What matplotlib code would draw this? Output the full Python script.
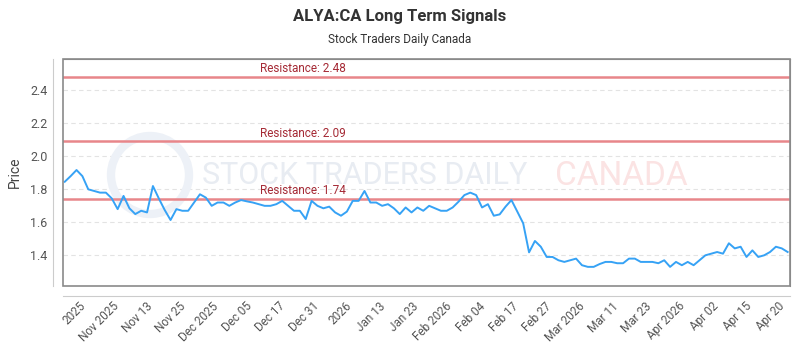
import matplotlib
matplotlib.use("Agg")
import matplotlib.pyplot as plt
import numpy as np
from matplotlib.patches import Rectangle, Ellipse

prices = [
    1.846, 1.88, 1.917, 1.88, 1.80, 1.79, 1.78, 1.78, 1.745, 1.68,
    1.76, 1.685, 1.65, 1.67, 1.66, 1.82, 1.745, 1.675, 1.614, 1.68,
    1.67, 1.67, 1.72, 1.77, 1.75, 1.70, 1.72, 1.72, 1.70, 1.72,
    1.735, 1.727, 1.72, 1.71, 1.70, 1.70, 1.71, 1.73, 1.70, 1.67,
    1.67, 1.62, 1.73, 1.70, 1.685, 1.695, 1.66, 1.64, 1.665, 1.73,
    1.73, 1.79, 1.72, 1.72, 1.70, 1.71, 1.685, 1.65, 1.69, 1.66,
    1.69, 1.67, 1.70, 1.685, 1.67, 1.67, 1.69, 1.725, 1.765, 1.78,
    1.765, 1.69, 1.71, 1.64, 1.648, 1.695, 1.735, 1.665, 1.594, 1.418,
    1.487, 1.452, 1.39, 1.39, 1.37, 1.36, 1.37, 1.38, 1.34, 1.33,
    1.33, 1.347, 1.36, 1.36, 1.352, 1.352, 1.38, 1.38, 1.36, 1.36,
    1.36, 1.352, 1.37, 1.33, 1.36, 1.34, 1.36, 1.34, 1.37, 1.40,
    1.41, 1.42, 1.41, 1.473, 1.442, 1.452, 1.39, 1.43, 1.39, 1.40,
    1.42, 1.452, 1.442, 1.42,
]

tick_labels = ["2025", "Nov 2025", "Nov 13", "Nov 25", "Dec 2025", "Dec 05",
               "Dec 17", "Dec 31", "2026", "Jan 13", "Jan 23", "Feb 2026",
               "Feb 04", "Feb 17", "Feb 27", "Mar 2026", "Mar 11", "Mar 23",
               "Apr 2026", "Apr 02", "Apr 15", "Apr 20"]

resistance = [2.48, 2.09, 1.74]
y_ticks = [1.4, 1.6, 1.8, 2.0, 2.2, 2.4]

plt.rcParams['font.family'] = ['Roboto', 'DejaVu Sans']

fig = plt.figure(figsize=(8, 3.5), dpi=100)
ax = fig.add_axes([63/800, 1-286/350, (790-63)/800, (286-59)/350])

# spines first (set_position resets ticks)
for s in ['top', 'right']:
    ax.spines[s].set_color('#8a8a8a')
ax.spines['left'].set_position(('outward', 7.2))
ax.spines['bottom'].set_position(('outward', 7.2))
ax.spines['left'].set_color('#cccccc')
ax.spines['bottom'].set_color('#cccccc')
ax.add_patch(Rectangle((0, 0), 1, 1, transform=ax.transAxes, fill=False,
                       edgecolor='#8a8a8a', lw=1.2, clip_on=False, zorder=7))

x = np.arange(len(prices))
ax.plot(x, prices, color='#36a2f5', lw=1.4, zorder=5)

ax.set_xlim(-0.3, len(prices) - 0.6)
ax.set_ylim(1.214, 2.59)

for r in resistance:
    ax.axhline(r, color='#e8868a', lw=1.8, zorder=3)
    ax.text(0.33, r + 0.012, f"Resistance: {r:.2f}", transform=ax.get_yaxis_transform(),
            ha='center', va='bottom', color='#a52a35', fontsize=8.5, zorder=6)

ax.set_yticks(y_ticks)
ax.set_yticklabels([f"{v:.1f}" for v in y_ticks])
ax.grid(axis='y', color='#e3e3e3', ls=(0, (4, 3)), lw=0.8)
ax.set_axisbelow(True)

tick_pos = np.linspace(3.2, 122.2, len(tick_labels))
ax.set_xticks(tick_pos)
ax.tick_params(axis='x', length=0, pad=6, labelsize=8.5, labelcolor='#555555')
ax.tick_params(axis='y', length=0, pad=4, labelsize=9, labelcolor='#555555')
ax.set_xticklabels(tick_labels, rotation=45, ha='right', va='center',
                   rotation_mode='anchor')

ax.set_ylabel("Price", fontsize=10, color='#444444', labelpad=6)

# watermark (inside axes, under the data)
ax.add_patch(Ellipse((150/800, 1-175/350), 78/800, 78/350, transform=fig.transFigure,
                     fill=False, edgecolor='#edf1f7', lw=6, zorder=1, clip_on=False))
ax.text(365/800, 1-176/350, "STOCK TRADERS DAILY", ha='center', va='center',
        fontsize=22, color='#e8ecf2', zorder=1, transform=fig.transFigure)
ax.text(621/800, 1-176/350, "CANADA", ha='center', va='center',
        fontsize=24, color='#fbe3e3', zorder=1, transform=fig.transFigure)

fig.text(0.5, 1-16/350, "ALYA:CA Long Term Signals", ha='center', va='center',
         fontsize=12, fontweight='bold', color='#333333')
fig.text(0.5, 1-40/350, "Stock Traders Daily Canada", ha='center', va='center',
         fontsize=8.5, color='#333333')

fig.savefig("out.png", dpi=100)
